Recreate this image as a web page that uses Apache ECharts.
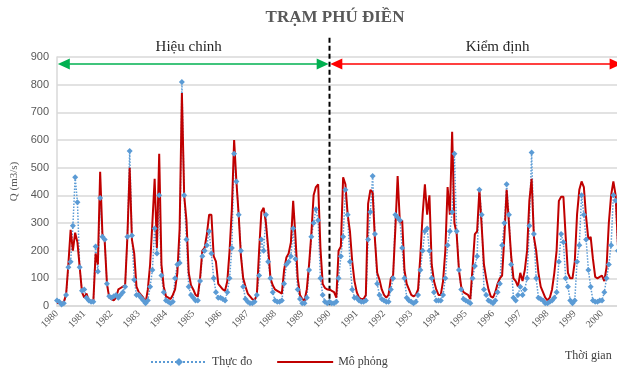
<!DOCTYPE html>
<html>
<head>
<meta charset="utf-8">
<script src="https://cdn.jsdelivr.net/npm/echarts@6/dist/echarts.min.js"></script>
<style>
  html, body { margin: 0; padding: 0; background: #fff; overflow: hidden; }
  #phudien { width: 640px; height: 371px; }
</style>
</head>
<body>
<div id="phudien"></div>
<script>
// Năm và tháng
const years = [1980, 1981, 1982, 1983, 1984, 1985, 1986, 1987, 1988, 1989, 1990,
               1991, 1992, 1993, 1994, 1995, 1996, 1997, 1998, 1999, 2000];
const months = ['01', '02', '03', '04', '05', '06', '07', '08', '09', '10', '11', '12'];

// Lưu lượng thực đo (m3/s), theo tháng
const thucDo = [
  20, 15, 5, 10, 40, 140, 160, 290, 465, 375, 140, 55,        // 1980
  60, 30, 20, 15, 15, 215, 125, 390, 250, 240, 80, 35,        // 1981
  30, 35, 40, 30, 40, 50, 70, 250, 560, 255, 95, 40,          // 1982
  40, 30, 20, 10, 20, 70, 130, 280, 190, 400, 110, 50,        // 1983
  20, 15, 10, 15, 100, 150, 155, 810, 400, 240, 70, 40,       // 1984
  30, 20, 20, 90, 180, 200, 220, 270, 190, 100, 50, 30,       // 1985
  30, 25, 20, 50, 100, 210, 550, 450, 330, 200, 70, 25,       // 1986
  15, 10, 10, 15, 40, 110, 240, 200, 330, 160, 100, 50,       // 1987
  20, 15, 15, 20, 80, 150, 160, 180, 280, 170, 60, 25,        // 1988
  10, 10, 30, 130, 250, 300, 350, 310, 100, 40, 15, 10,       // 1989
  15, 10, 10, 15, 100, 180, 250, 420, 330, 160, 60, 30,       // 1990
  30, 20, 15, 15, 20, 240, 340, 470, 260, 80, 40, 25,         // 1991
  20, 15, 15, 60, 100, 330, 320, 310, 210, 100, 30, 20,       // 1992
  15, 10, 15, 40, 130, 200, 270, 280, 200, 100, 50, 20,       // 1993
  20, 20, 40, 100, 220, 270, 340, 550, 270, 130, 60, 25,      // 1994
  20, 15, 10, 100, 145, 180, 420, 330, 60, 40, 20, 15,        // 1995
  10, 20, 50, 80, 220, 300, 440, 330, 150, 30, 20, 40,        // 1996
  70, 40, 60, 100, 290, 555, 260, 100, 30, 25, 20, 10,        // 1997
  10, 15, 20, 30, 50, 160, 260, 230, 100, 70, 20, 10,         // 1998
  20, 160, 220, 400, 330, 240, 130, 70, 20, 15, 15, 20,       // 1999
  20, 50, 100, 150, 220, 400, 380, 200, 100, 50, 30, 20       // 2000
];

// Lưu lượng mô phỏng (m3/s), theo tháng
const moPhong = [
  12, 10, 10, 15, 40, 150, 275, 200, 265, 230, 140, 50,       // 1980
  30, 45, 20, 15, 15, 190, 150, 485, 260, 235, 80, 30,        // 1981
  25, 20, 30, 60, 65, 70, 75, 250, 500, 240, 190, 70,         // 1982
  50, 40, 30, 10, 60, 150, 300, 460, 210, 550, 150, 70,       // 1983
  35, 30, 25, 40, 60, 120, 280, 770, 400, 310, 120, 75,       // 1984
  60, 40, 35, 100, 200, 210, 260, 330, 330, 180, 160, 80,     // 1985
  70, 60, 55, 90, 200, 350, 600, 450, 330, 180, 100, 70,      // 1986
  45, 35, 25, 20, 40, 200, 340, 355, 300, 210, 100, 75,       // 1987
  60, 55, 50, 45, 130, 175, 190, 230, 380, 250, 100, 40,      // 1988
  25, 20, 60, 150, 260, 400, 430, 440, 210, 80, 65, 60,       // 1989
  60, 55, 50, 30, 200, 215, 465, 440, 330, 270, 160, 90,      // 1990
  50, 30, 25, 25, 40, 370, 420, 410, 240, 120, 95, 60,        // 1991
  40, 30, 40, 100, 110, 280, 470, 300, 310, 130, 80, 60,      // 1992
  40, 35, 40, 60, 180, 330, 440, 330, 400, 150, 90, 60,       // 1993
  40, 40, 90, 200, 430, 330, 630, 300, 260, 130, 70, 50,      // 1994
  45, 40, 25, 140, 260, 270, 420, 290, 150, 100, 60, 35,      // 1995
  30, 50, 80, 100, 110, 250, 420, 300, 180, 100, 90, 70,      // 1996
  120, 90, 130, 200, 380, 460, 250, 200, 120, 70, 50, 30,     // 1997
  20, 30, 60, 120, 200, 380, 395, 395, 250, 120, 100, 100,    // 1998
  160, 330, 420, 450, 430, 320, 240, 250, 170, 105, 100, 105, // 1999
  110, 90, 140, 300, 400, 450, 400, 220, 120, 80, 60, 50      // 2000
];

const yTicks = [0, 100, 200, 300, 400, 500, 600, 700, 800, 900];

const categories = [];
years.forEach(y => months.forEach(m => categories.push(y + '-' + m)));

const serif = '"Liberation Serif", "DejaVu Serif", serif';
const chart = echarts.init(document.getElementById('phudien'));

const option = {
  animation: false,
  grid: { left: 57, top: 57, right: 13, bottom: 65 },
  legend: {
    left: 145, top: 351,
    itemWidth: 56, itemHeight: 10, itemGap: 24,
    textStyle: { fontFamily: serif, fontSize: 12, color: '#404040' },
    data: [
      { name: 'Thực đo' },
      { name: 'Mô phỏng', itemStyle: { opacity: 0 } }
    ]
  },
  xAxis: {
    type: 'category',
    boundaryGap: false,
    data: categories,
    axisLine: { lineStyle: { color: '#d9d9d9', width: 1.5 } },
    axisTick: { show: false },
    axisLabel: {
      interval: idx => idx % 12 === 0,
      formatter: v => v.slice(0, 4),
      rotate: 45,
      margin: 6,
      fontFamily: serif, fontSize: 10, color: '#595959'
    },
    splitLine: { show: false }
  },
  yAxis: {
    type: 'value',
    min: yTicks[0], max: yTicks[yTicks.length - 1], interval: 100,
    name: 'Q (m3/s)',
    nameLocation: 'middle',
    nameGap: 23,
    nameTextStyle: { fontFamily: serif, fontSize: 11, color: '#595959' },
    axisLine: { show: true, lineStyle: { color: '#d9d9d9', width: 1.5 } },
    axisTick: { show: false },
    axisLabel: { fontFamily: '"Liberation Sans", sans-serif', fontSize: 11, color: '#595959', margin: 8 },
    splitLine: { lineStyle: { color: '#d9d9d9', width: 1.5 } }
  },
  series: [
    {
      name: 'Thực đo',
      type: 'line',
      data: thucDo,
      symbol: 'diamond',
      symbolSize: 6,
      showAllSymbol: true,
      itemStyle: { color: '#5b9bd5' },
      lineStyle: { color: '#5b9bd5', width: 1.5, type: 'dotted' },
      markLine: {
        silent: true,
        symbol: ['triangle', 'triangle'],
        symbolSize: [11, 12],
        label: { show: false },
        lineStyle: { color: '#00b050', width: 1.5, type: 'solid' },
        data: [[{ coord: [3, 875] }, { coord: [117, 875] }]]
      }
    },
    {
      name: 'Mô phỏng',
      type: 'line',
      data: moPhong,
      showSymbol: false,
      symbol: 'none',
      itemStyle: { color: '#c00000' },
      lineStyle: { color: '#c00000', width: 2 },
      markLine: {
        silent: true,
        symbol: ['triangle', 'triangle'],
        symbolSize: [11, 12],
        label: { show: false },
        lineStyle: { color: '#ff0000', width: 1.5, type: 'solid' },
        data: [[{ coord: [123, 875] }, { coord: [246, 875] }]]
      }
    }
  ]
};
chart.setOption(option);

// đường chia giai đoạn và chữ chú thích, đặt theo trục
const pTop = chart.convertToPixel({ gridIndex: 0 }, [120, 970]);
const pBot = chart.convertToPixel({ gridIndex: 0 }, [120, 0]);
const pHieu = chart.convertToPixel({ gridIndex: 0 }, [58, 935]);
const pKiem = chart.convertToPixel({ gridIndex: 0 }, [194, 935]);

chart.setOption({
  graphic: [
    {
      type: 'text', x: 335, y: 18,
      style: { text: 'TRẠM PHÚ ĐIỀN', font: 'bold 17px ' + serif, fill: '#595959',
               align: 'center', verticalAlign: 'middle' }
    },
    {
      type: 'line',
      shape: { x1: pTop[0], y1: pTop[1], x2: pBot[0], y2: pBot[1] },
      style: { stroke: '#000', lineWidth: 2, lineDash: [5, 3] }
    },
    {
      type: 'text', x: pHieu[0], y: pHieu[1],
      style: { text: 'Hiệu chỉnh', font: '15px ' + serif, fill: '#262626',
               align: 'center', verticalAlign: 'middle' }
    },
    {
      type: 'text', x: pKiem[0], y: pKiem[1],
      style: { text: 'Kiểm định', font: '15px ' + serif, fill: '#262626',
               align: 'center', verticalAlign: 'middle' }
    },
    {
      type: 'text', x: 565, y: 356,
      style: { text: 'Thời gian', font: '12px ' + serif, fill: '#404040',
               align: 'left', verticalAlign: 'middle' }
    }
  ]
});
</script>
</body>
</html>
